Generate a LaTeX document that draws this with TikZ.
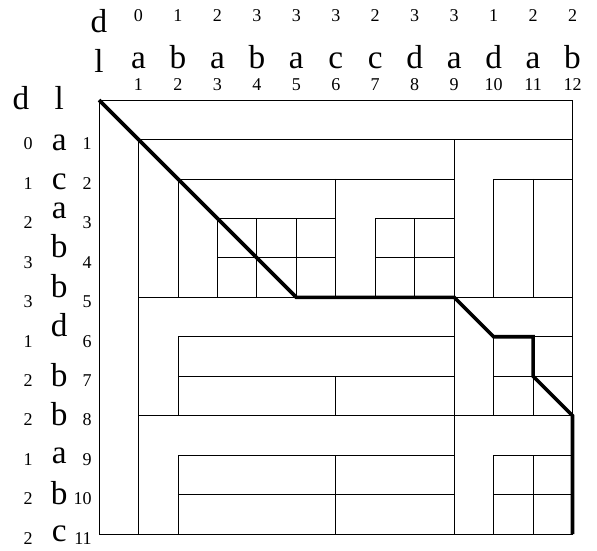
\documentclass[tikz,border=0pt]{standalone}
\usepackage{fontspec}
\setmainfont{Liberation Serif}
\usetikzlibrary{positioning}
\begin{document}
\begin{tikzpicture}[
  x=1cm, y=-1cm,
  cellline/.style={line width=0.6pt},
  route/.style={line width=2.6pt, line join=miter},
  bigtxt/.style={font=\fontsize{24}{24}\selectfont, anchor=base, inner sep=0pt},
  smalltxt/.style={font=\fontsize{13}{13}\selectfont, anchor=base, inner sep=0pt}
]
\useasboundingbox (-2.51,-2.535) rectangle (12.62,11.41);

% header labels
\node[bigtxt] (hd) at (0,-1.72) {d};
\node[bigtxt] (hl) at (0,-0.71) {l};
\node[bigtxt] (vd) at (-1.98,0.25) {d};
\node[bigtxt] (vl) at (-1.01,0.25) {l};

% column labels
\foreach \j/\d/\c in {1/0/a,2/1/b,3/2/a,4/3/b,5/3/a,6/3/c,7/2/c,8/3/d,9/3/a,10/1/d,11/2/a,12/2/b} {
  \node[smalltxt] (cd\j) at (\j,-1.98) {\d};
  \node[bigtxt] (cl\j) at (\j,-0.81) {\c};
  \node[smalltxt] (ci\j) at (\j,-0.25) {\j};
}

% row labels
\foreach \i/\d/\c/\o in {1/0/a/0.27,2/1/c/0.27,3/2/a/0,4/3/b/0,5/3/b/0,6/1/d/0,7/2/b/0.25,8/2/b/0.25,9/1/a/0.2,10/2/b/0.25,11/2/c/0.19} {
  \node[smalltxt] (rd\i) at (-1.8,\i+0.26) {\d};
  \node[bigtxt] (rl\i) at (-1.01,\i+\o) {\c};
  \node[smalltxt, anchor=base east] (ri\i) at (-0.18,\i+0.26) {\i};
}

% outer frame and main split
\draw[cellline] (0,0) rectangle (12,11);
\draw[cellline] (1,11) -- (1,1) -- (12,1);
\draw[cellline] (9,1) -- (9,11);
\draw[cellline] (1,5) -- (12,5);
\draw[cellline] (1,8) -- (12,8);

% upper block
\draw[cellline] (2,5) -- (2,2) -- (9,2);
\draw[cellline] (6,2) -- (6,5);
\draw[cellline] (3,5) -- (3,3) -- (6,3) (3,4) -- (6,4) (4,3) -- (4,5) (5,3) -- (5,5);
\draw[cellline] (7,5) -- (7,3) -- (9,3) (7,4) -- (9,4) (8,3) -- (8,5);
\draw[cellline] (10,5) -- (10,2) -- (12,2) (11,2) -- (11,5);

% middle block
\draw[cellline] (2,8) -- (2,6) -- (9,6) (2,7) -- (9,7) (6,7) -- (6,8);
\draw[cellline] (10,8) -- (10,6) -- (12,6) (10,7) -- (12,7) (11,6) -- (11,8);

% lower block
\draw[cellline] (2,11) -- (2,9) -- (9,9) (2,10) -- (9,10) (6,9) -- (6,11);
\draw[cellline] (10,11) -- (10,9) -- (12,9) (10,10) -- (12,10) (11,9) -- (11,11);

% alignment path
\draw[route] (0,0) -- (5,5) -- (9,5) -- (10,6) -- (11,6) -- (11,7) -- (12,8) -- (12,11);
\end{tikzpicture}
\end{document}
